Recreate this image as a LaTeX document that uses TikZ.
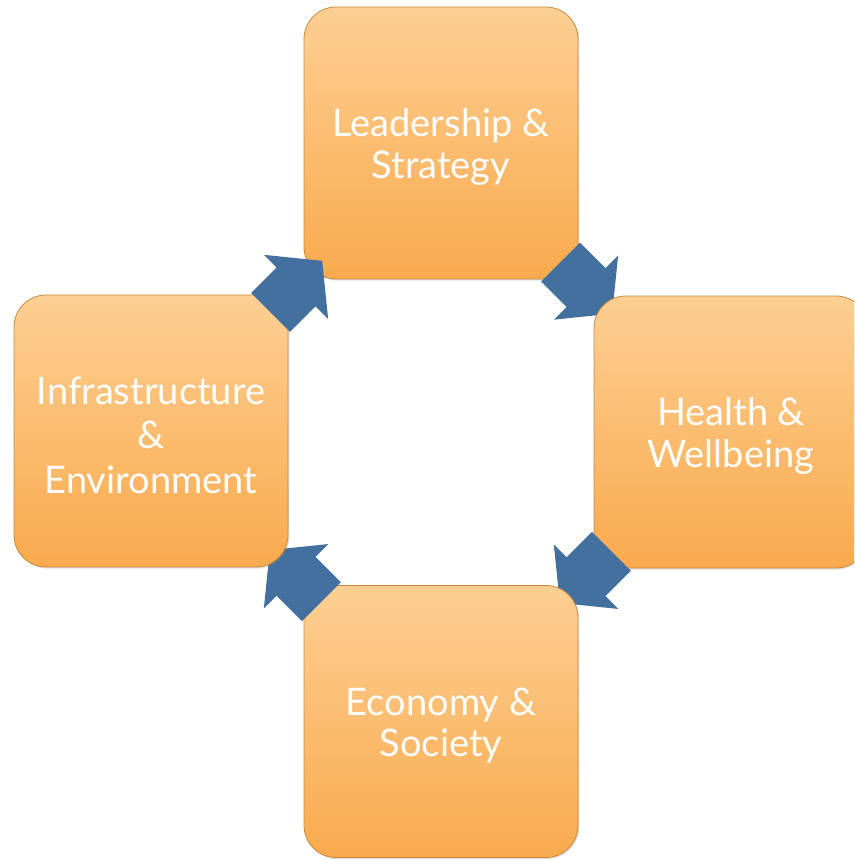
\documentclass[tikz,border=0pt]{standalone}
\usepackage{fontspec}
\setmainfont{Lato}
\usetikzlibrary{shadows,calc}
\definecolor{boxtop}{HTML}{FDCF93}
\definecolor{boxbot}{HTML}{F9AA4D}
\definecolor{boxedge}{HTML}{C98A3E}
\definecolor{arrowblue}{HTML}{44709F}
\newcommand{\topstrut}{\rule{0pt}{27pt}}
\tikzset{
  stagebox/.style={rectangle, rounded corners=24pt, minimum width=205.5pt,
    minimum height=204pt, inner sep=0pt, outer sep=0pt,
    top color=boxtop, bottom color=boxbot, draw=boxedge, line width=0.6pt,
    text=white, align=center, font=\fontsize{28.5}{31}\selectfont,
    drop shadow={opacity=0.25, shadow xshift=1pt, shadow yshift=-1.2pt}},
  pics/blockarrow/.style={code={
    \fill[arrowblue] (-36,-27.5) -- (0,-27.5) -- (0,-45.5) -- (37,0)
      -- (0,45.5) -- (0,27.5) -- (-36,27.5) -- cycle;}}
}
\begin{document}
\begin{tikzpicture}[x=0.75pt,y=-0.75pt]
\useasboundingbox (0,0) rectangle (854,860);
\clip (0,0) rectangle (854,860);
\coordinate (cLead) at (441,143);
\coordinate (cHealth) at (731,432);
\coordinate (cEcon) at (441,721.5);
\coordinate (cInfra) at (151,431);
\node[stagebox] (lead) at (cLead) {\topstrut Leadership \&\\Strategy};
\pic[rotate=-45] (a1) at ($(cLead)!0.5!(cHealth)$) {blockarrow};
\node[stagebox] (health) at (cHealth) {\topstrut Health \&\\Wellbeing};
\pic[rotate=-135] (a2) at ($(cHealth)!0.5!(cEcon)$) {blockarrow};
\node[stagebox] (econ) at (cEcon) {\topstrut Economy \&\\Society};
\pic[rotate=135] (a3) at ($(cEcon)!0.5!(cInfra)$) {blockarrow};
\node[stagebox, font=\fontsize{28.5}{33.5}\selectfont] (infra) at (cInfra) {\topstrut Infrastructure\\\&\\Environment};
\pic[rotate=45] (a4) at ($(cInfra)!0.5!(cLead)$) {blockarrow};
\end{tikzpicture}
\end{document}
